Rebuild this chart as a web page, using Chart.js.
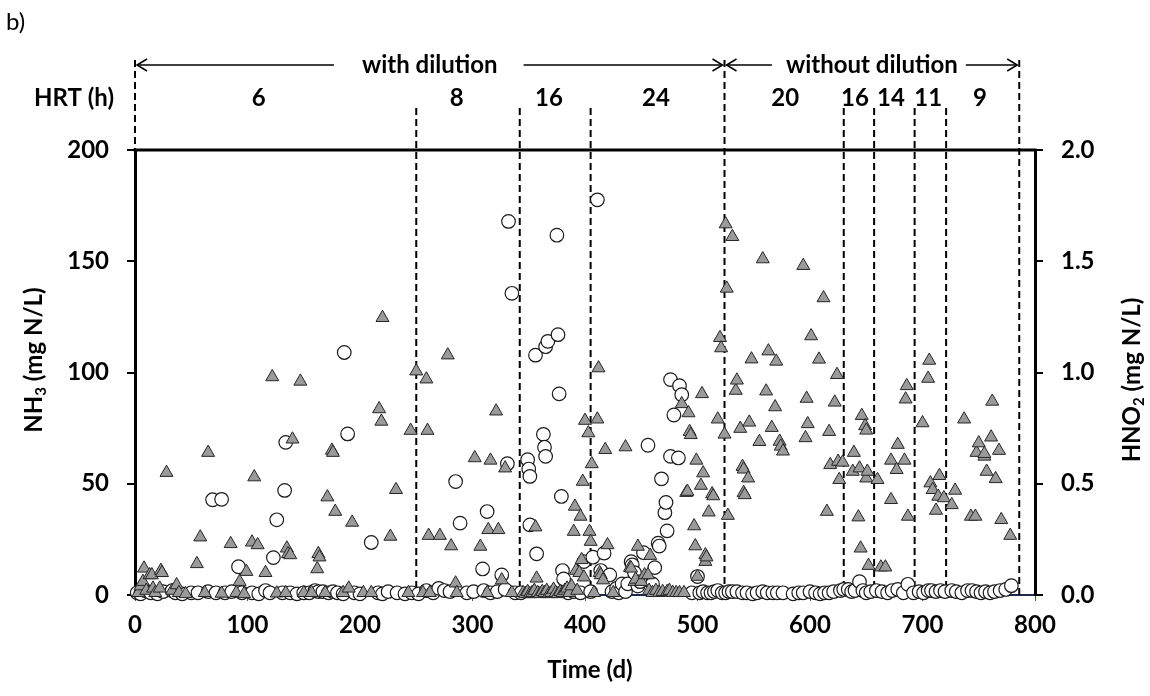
<!DOCTYPE html>
<html><head><meta charset="utf-8">
<script src="https://cdn.jsdelivr.net/npm/chart.js@4.4.1/dist/chart.umd.min.js"></script>
<style>html,body{margin:0;padding:0;background:#fff;}canvas{display:block;}</style>
</head><body>
<canvas id="c" width="1150" height="696"></canvas>
<script>
// ---- DATA ----
// NH3 (mg N/L), triangles, left axis: [day, value]
const nh3Points = [
[3,1],[5,4],[7,6],[8,12],[10,2],[13,9],[15,9],[16,3],[18,1],[22,3],[23,11],[24,10],[28,55],[33,2],[37,4.5],[39,1],[45,0.5],
[55,14],[58,26],[62,1],[65,64],[77,0.7],[85,23],[90,1],[93,6],[97,0.5],[99,10.5],[104,23.7],[106,53],[109,22.5],[116,10],
[122,98],[126,0.8],[134,1],[135,21],[136,18.5],[138,18],[140,70],[147,96],[150,1],[157,1],[162,11.7],[163,18.5],[164,17],
[169,1],[171,44],[175,65],[176,64],[178,37.5],[185,1],[190,3],[193,32.6],[203,1],[210,1],[217,83.6],[219,78],[220,124.6],
[227,26.3],[232,47.3],[243,1],[245,73.9],
[250,100.6],[256,1],[259,97],[260,73.9],[261,26.7],[262,1],[271,26.7],[278,107.8],[281,22],[285,5.3],[286,1],[302,61.6],
[307,21.8],[313,1],[314,29.3],[316,60.5],[321,82.6],[323,29.3],[326,6.7],[329,57],[335,1],
[345,1],[347,0.5],[349,1.5],[351,0.5],[353,1],[355,2],[356,30.5],[357,7.5],[358,1],[360,0.5],[362,1.5],[364,1],[366,2],
[368,0.5],[370,1],[372,2.5],[374,1],[376,0.5],[378,1.5],[380,1],[382,2],[384,3],[386,1],[388,4],[390,28.5],[391,39.8],
[392,11],[393,2],[395,10],[396,35.3],[397,15.8],[398,51],[399,8],[400,78.4],[403,72.8],[404,28.5],[405,24],[406,58.9],
[408,1],[411,79],[412,102],[413,10],[414,9],[416,6.7],[418,65.3],[420,22.5],[425,1],[436,66.5],[440,12.3],[441,12],[444,6],
[445,7],[447,21.8],[450,6],[453,9],[456,9],[457,2],[458,17.7],[460,1],[463,2],[466,1],[469,1.5],[473,1.5],[475,2],[478,1],
[481,1],[484,1],[486,85.9],[488,1],[490,46],[491,46.5],[492,81.8],[493,73.4],[494,72],[497,31],[498,22],[499,60.5],
[500,8.3],[503,49.2],[504,90.4],[505,54.8],[507,18],[507,15],[508,17],[510,37.2],[513,45.4],[514,44.5],[518,79],
[520,115.6],[521,111],
[524,72.2],[525,166.7],[526,137.8],[527,35.7],[531,161],[534,91.9],[535,96.5],[538,74.8],[540,57.7],[541,56.5],[541,46],
[542,45],[545,52.5],[546,77.6],[548,106],[555,68.9],[558,151],[561,91.6],[563,109.6],[566,75.2],[569,84.5],[570,105],
[573,69],[574,66.8],[576,64.6],[594,148],[596,70.6],[597,88.3],[598,76.9],[601,116.4],[608,105.9],[612,133.5],[615,37.5],
[617,73.4],[618,58.5],[622,86.6],[624,99],[625,60],[626,51.8],[629,59.6],
[638,55.5],[639,64],[643,35],[644,57],[645,21],[646,80.6],[649,76],[650,74],[650,52.5],[651,55.5],[652,13.2],[660,51.8],
[663,12.5],[667,12.5],[672,60.5],[672,42.8],[677,56.3],[678,67.6],[684,60.5],[685,88],[686,94],[687,35.3],
[700,77.3],[705,97.3],[706,105.4],[707,50.3],[709,47.3],[712,38],[714,44.3],[715,53.6],[719,43.6],
[726,40.5],[729,47],[737,79],[743,35.3],[747,35.3],[748,64],[750,68.3],[755,62.3],[755,63.5],[757,55.5],[761,70.9],
[762,87],[765,52.2],[768,64.9],[770,33.8],[778,26.7]
];
// HNO2 (mg N/L), circles, right axis: [day, value]
const hno2Points = [
[2,0.01],[5,0.005],[9,0.02],[14,0.01],[20,0.005],[25,0.015],[33,0.02],[36,0.01],[42,0.005],[50,0.01],[56,0.01],[65,0.015],
[69,0.428],[72,0.01],[77,0.43],[80,0.01],[86,0.015],[92,0.127],[95,0.01],[104,0.01],[110,0.005],[116,0.02],[120,0.01],
[123,0.168],[126,0.338],[131,0.01],[133,0.47],[134,0.686],[138,0.01],[144,0.005],[150,0.01],[155,0.01],[160,0.02],
[163,0.015],[167,0.015],[172,0.01],[176,0.015],[180,0.01],[185,0.005],[186,1.09],[189,0.724],[195,0.01],[200,0.005],
[210,0.236],[216,0.01],[220,0.005],[225,0.015],[233,0.01],[240,0.005],[246,0.01],[252,0.005],[259,0.02],[265,0.01],
[270,0.03],[275,0.02],[280,0.015],[285,0.51],[289,0.323],[295,0.01],[301,0.015],[309,0.117],[310,0.02],[313,0.375],
[316,0.01],[322,0.015],[326,0.09],[329,0.025],[331,0.59],[332,1.679],[335,1.356],[338,0.01],[343,0.01],[349,0.608],
[350,0.566],[351,0.533],[351,0.315],[356,1.078],[357,0.185],[363,0.722],[364,0.664],[365,0.623],[365,1.116],[367,1.14],
[375,1.617],[376,1.17],[377,0.904],[379,0.443],[380,0.11],[381,0.072],[385,0.01],[390,0.015],[396,0.01],[399,0.15],
[405,0.015],[407,0.17],[411,1.776],[414,0.11],[417,0.188],[422,0.09],[424,0.015],[428,0.03],[430,0.01],[433,0.05],
[436,0.015],[438,0.05],[441,0.15],[442,0.135],[444,0.1],[447,0.04],[449,0.06],[452,0.19],[456,0.673],[460,0.05],
[462,0.123],[465,0.233],[466,0.22],[468,0.522],[471,0.37],[472,0.416],[473,0.288],[476,0.623],[476,0.968],[479,0.809],
[483,0.616],[484,0.941],[486,0.90],[495,0.01],[500,0.083],[502,0.01],[505,0.015],[509,0.01],[512,0.01],[515,0.015],
[518,0.02],[522,0.01],[525,0.01],[528,0.015],[531,0.015],[535,0.015],[540,0.01],[544,0.01],[549,0.005],[553,0.01],
[558,0.015],[562,0.01],[567,0.01],[571,0.01],[576,0.01],[585,0.005],[590,0.01],[594,0.01],[600,0.015],[605,0.01],
[609,0.005],[613,0.01],[617,0.01],[621,0.015],[627,0.02],[630,0.025],[634,0.025],[637,0.015],[640,0.02],[644,0.06],
[647,0.02],[650,0.01],[654,0.015],[659,0.02],[664,0.015],[669,0.01],[673,0.02],[678,0.025],[683,0.01],[687,0.048],
[692,0.01],[697,0.015],[701,0.01],[705,0.02],[708,0.02],[712,0.015],[716,0.02],[720,0.015],[726,0.02],[730,0.015],
[735,0.01],[740,0.02],[744,0.02],[748,0.015],[752,0.01],[756,0.015],[760,0.01],[764,0.015],[769,0.02],[774,0.025],[779,0.042]
];
const xTickValues = [0,100,200,300,400,500,600,700,800];
const nh3Ticks = [0,50,100,150,200];
const hno2Ticks = [0.0,0.5,1.0,1.5,2.0];
// HRT periods
const hrtBoundaries = [0,250,342,405,524,630,657,693,721,786];
const phaseBoundaryIdx = [0,4,9]; // boundaries that also delimit dilution phases
const hrtLabels = ['6','8','16','24','20','16','14','11','9'];
const hrtLabelDays = [110,286,368,463,578,640,672,705,751];
const phaseLabels = ['with dilution','without dilution'];

// ---- DRAWING ----
const FONT = 'Lato, "Open Sans", sans-serif';

function richText(ctx, parts, cx, cy, rot){
  ctx.save();
  ctx.translate(cx, cy);
  if (rot) ctx.rotate(rot);
  const big = 'bold 24px ' + FONT, small = 'bold 15px ' + FONT;
  let total = 0;
  parts.forEach(p => { ctx.font = p.sub ? small : big; p.w = ctx.measureText(p.t).width; total += p.w; });
  let xx = -total/2;
  ctx.textBaseline = 'middle'; ctx.textAlign = 'left'; ctx.fillStyle = '#000';
  parts.forEach(p => { ctx.font = p.sub ? small : big; ctx.fillText(p.t, xx, p.sub ? 7 : 0); xx += p.w; });
  ctx.restore();
}

function arrow(ctx, x1, x2, y, headAtStart){
  ctx.beginPath(); ctx.moveTo(x1, y); ctx.lineTo(x2, y); ctx.stroke();
  const tip = headAtStart ? x1 : x2, dir = headAtStart ? 1 : -1;
  ctx.beginPath();
  ctx.moveTo(tip + dir*10, y - 6); ctx.lineTo(tip, y); ctx.lineTo(tip + dir*10, y + 6);
  ctx.stroke();
}

const annot = {
  id: 'annot',
  beforeDatasetsDraw(chart){
    const {ctx, chartArea:a, scales:{x}} = chart;
    ctx.save();
    ctx.strokeStyle = '#000'; ctx.lineWidth = 2; ctx.setLineDash([7,4]);
    hrtBoundaries.forEach((d,i) => {
      const px = x.getPixelForValue(d);
      const top = phaseBoundaryIdx.includes(i) ? 60 : 108;
      ctx.beginPath(); ctx.moveTo(px, top); ctx.lineTo(px, a.bottom); ctx.stroke();
    });
    ctx.restore();
  },
  afterDraw(chart){
    const {ctx, chartArea:a, scales:{x}} = chart;
    ctx.save();
    // top frame line
    ctx.strokeStyle = '#000'; ctx.lineWidth = 3;
    ctx.beginPath(); ctx.moveTo(a.left - 1.5, a.top); ctx.lineTo(a.right + 1.5, a.top); ctx.stroke();
    // phase arrows and labels
    ctx.lineWidth = 1.5; ctx.setLineDash([]);
    ctx.font = 'bold 24px ' + FONT; ctx.fillStyle = '#000';
    ctx.textAlign = 'center'; ctx.textBaseline = 'middle';
    const yA = 65;
    const p0 = x.getPixelForValue(hrtBoundaries[0]);
    const p1 = x.getPixelForValue(hrtBoundaries[4]);
    const p2 = x.getPixelForValue(hrtBoundaries[9]);
    const c1 = (p0 + p1)/2, w1 = ctx.measureText(phaseLabels[0]).width;
    ctx.fillText(phaseLabels[0], c1, yA);
    arrow(ctx, p0 + 2, c1 - w1/2 - 28, yA, true);
    arrow(ctx, c1 + w1/2 + 26, p1 - 2, yA, false);
    const c2 = (p1 + p2)/2, w2 = ctx.measureText(phaseLabels[1]).width;
    ctx.fillText(phaseLabels[1], c2, yA);
    arrow(ctx, p1 + 2, c2 - w2/2 - 14, yA, true);
    arrow(ctx, c2 + w2/2 + 8, p2 - 2, yA, false);
    // HRT labels
    const yH = 98;
    ctx.fillText('HRT (h)', 74, yH);
    hrtLabels.forEach((t,i) => ctx.fillText(t, x.getPixelForValue(hrtLabelDays[i]), yH));
    // panel letter
    ctx.font = '24px ' + FONT; ctx.textAlign = 'left';
    ctx.fillText('b)', 6, 22);
    // axis titles
    richText(ctx, [{t:'NH'},{t:'3',sub:true},{t:' (mg N/L)'}], 34, 360, -Math.PI/2);
    richText(ctx, [{t:'HNO'},{t:'2',sub:true},{t:' (mg N/L)'}], 1132, 380, -Math.PI/2);
    richText(ctx, [{t:'Time (d)'}], 590, 670, 0);
    ctx.restore();
  }
};

function build(){
  Chart.defaults.font.family = FONT;
  const tickFont = {family: FONT, size: 24, weight: 'bold'};
  new Chart(document.getElementById('c'), {
    type: 'scatter',
    data: {
      datasets: [
        { label: 'NH3', data: nh3Points.map(p => ({x:p[0], y:p[1]})), yAxisID: 'y',
          pointStyle: 'triangle', pointRadius: 7.5, backgroundColor: '#9a9a9a', borderColor: '#262626',
          borderWidth: 1, clip: false, order: 0 },
        { label: 'HNO2', data: hno2Points.map(p => ({x:p[0], y:p[1]})), yAxisID: 'y1',
          pointStyle: 'circle', pointRadius: 6.8, backgroundColor: '#ffffff', borderColor: '#1a1a1a',
          borderWidth: 1.2, clip: false, order: 1 }
      ]
    },
    options: {
      responsive: false, animation: false, devicePixelRatio: 1,
      layout: {padding: {top: 150, left: 0, right: 0, bottom: 0}},
      plugins: {legend: {display: false}, tooltip: {enabled: false}},
      events: [],
      scales: {
        x: {
          type: 'linear', min: 0, max: 800,
          afterBuildTicks: s => { s.ticks = xTickValues.map(v => ({value: v})); },
          afterFit: s => { s.height = 101; },
          border: {color: '#1c2b4f', width: 2},
          grid: {drawOnChartArea: false, drawTicks: true, tickLength: 6, color: '#3a5a9a', lineWidth: 1},
          ticks: {font: tickFont, color: '#000', padding: 10}
        },
        y: {
          position: 'left', min: 0, max: 200,
          afterBuildTicks: s => { s.ticks = nh3Ticks.map(v => ({value: v})); },
          afterFit: s => { s.width = 135; },
          border: {color: '#000', width: 3},
          grid: {drawOnChartArea: false, drawTicks: true, tickLength: 8, color: '#000', lineWidth: 2},
          ticks: {font: tickFont, color: '#000', padding: 18}
        },
        y1: {
          position: 'right', min: 0, max: 2,
          afterBuildTicks: s => { s.ticks = hno2Ticks.map(v => ({value: v})); },
          afterFit: s => { s.width = 115; },
          border: {color: '#000', width: 3},
          grid: {drawOnChartArea: false, drawTicks: true, tickLength: 8, color: '#000', lineWidth: 2},
          ticks: {font: tickFont, color: '#000', padding: 18, callback: v => Number(v).toFixed(1)}
        }
      }
    },
    plugins: [annot]
  });
}
const fl = document.fonts && document.fonts.load
  ? Promise.all([document.fonts.load('bold 24px Lato'), document.fonts.load('24px Lato')]).catch(()=>{})
  : Promise.resolve();
fl.then(build, build);
</script>
</body></html>
